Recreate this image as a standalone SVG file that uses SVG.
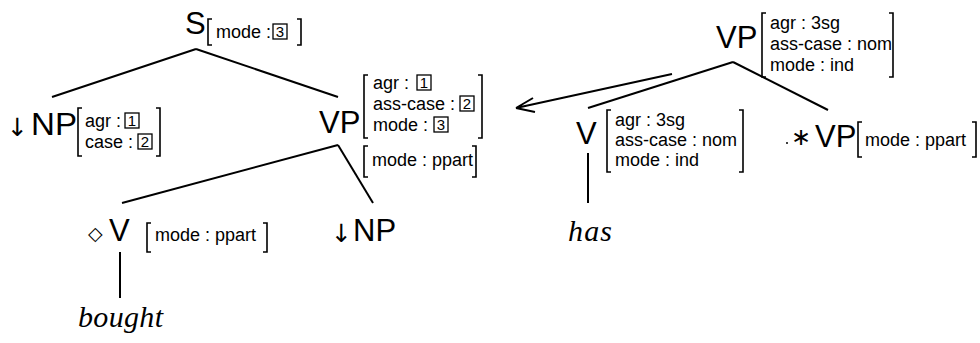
<svg xmlns="http://www.w3.org/2000/svg" width="980" height="343" viewBox="0 0 980 343">
<style>
.lbl{font-family:"Liberation Sans",Arial,sans-serif;font-size:31px;fill:#000}
.ft{font-family:"Liberation Sans",Arial,sans-serif;font-size:18px;fill:#000}
.dg{font-family:"Liberation Sans",Arial,sans-serif;font-size:15px;fill:#000;text-anchor:middle}
.sym{font-family:"DejaVu Sans",sans-serif;fill:#000}
.word{font-family:"Liberation Serif","Times New Roman",serif;font-style:italic;font-size:30px;fill:#000}
.br{fill:none;stroke:#000;stroke-width:1.6}
.bx{fill:none;stroke:#000;stroke-width:1.3}
.edge{fill:none;stroke:#000;stroke-width:2}
</style>
<rect width="980" height="343" fill="#fff"/>
<g id="connectors">
<line class="edge" x1="196" y1="49" x2="52" y2="97"/>
<line class="edge" x1="196" y1="49" x2="338" y2="97"/>
<line class="edge" x1="338" y1="145" x2="122" y2="203"/>
<line class="edge" x1="338" y1="145" x2="373" y2="203"/>
<line class="edge" x1="120" y1="252" x2="120" y2="298"/>
<line class="edge" x1="733" y1="62" x2="588" y2="108"/>
<line class="edge" x1="733" y1="62" x2="828" y2="110"/>
<line class="edge" x1="588" y1="153" x2="588" y2="203"/>
<path class="edge" d="M672,74 L516,108 M516,108 L533,98 M516,108 L535,112"/>
</g>
<g id="n-S">
<text class="lbl" x="185" y="34">S</text>
<path class="br" d="M212,19 H208 V45 H212"/>
<text class="ft" x="216" y="38">mode :</text>
<rect class="bx" x="273" y="24" width="14" height="15"/>
<text class="dg" x="280" y="37">3</text>
<path class="br" d="M297,19 H301 V45 H297"/>
</g>
<g id="n-NP1">
<text class="sym" x="7" y="136" font-size="25">↓</text>
<text class="lbl" x="31" y="135" textLength="46" lengthAdjust="spacingAndGlyphs">NP</text>
<path class="br" d="M82,108 H78 V156 H82"/>
<text class="ft" x="85" y="127">agr :</text>
<rect class="bx" x="125" y="113" width="14" height="15"/>
<text class="dg" x="132" y="126">1</text>
<text class="ft" x="85" y="148">case :</text>
<rect class="bx" x="138" y="134" width="14" height="15"/>
<text class="dg" x="145" y="147">2</text>
<path class="br" d="M156,108 H160 V156 H156"/>
</g>
<g id="n-VP1">
<text class="lbl" x="319" y="133">VP</text>
<path class="br" d="M368,75 H364 V138 H368"/>
<text class="ft" x="373" y="89">agr :</text>
<rect class="bx" x="417" y="75" width="14" height="15"/>
<text class="dg" x="424" y="88">1</text>
<text class="ft" x="373" y="110">ass-case :</text>
<rect class="bx" x="460" y="96" width="14" height="15"/>
<text class="dg" x="467" y="109">2</text>
<text class="ft" x="373" y="131">mode :</text>
<rect class="bx" x="434" y="117" width="14" height="15"/>
<text class="dg" x="441" y="130">3</text>
<path class="br" d="M478,75 H482 V138 H478"/>
<path class="br" d="M368,146 H364 V177 H368"/>
<text class="ft" x="372" y="166">mode : ppart</text>
<path class="br" d="M472,146 H476 V177 H472"/>
</g>
<g id="n-V1">
<text class="sym" x="88" y="240" font-size="19">◇</text>
<text class="lbl" x="109" y="241">V</text>
<path class="br" d="M151,223 H147 V252 H151"/>
<text class="ft" x="155" y="241">mode : ppart</text>
<path class="br" d="M263,223 H267 V252 H263"/>
</g>
<g id="n-NP2">
<text class="sym" x="331" y="242" font-size="25">↓</text>
<text class="lbl" x="353" y="241">NP</text>
</g>
<g id="n-bought">
<text class="word" x="78" y="327" textLength="85" lengthAdjust="spacing">bought</text>
</g>
<g id="n-VP2">
<text class="lbl" x="716" y="48">VP</text>
<path class="br" d="M766,13 H762 V77 H766"/>
<text class="ft" x="770" y="29">agr : 3sg</text>
<text class="ft" x="770" y="50">ass-case : nom</text>
<text class="ft" x="770" y="71">mode : ind</text>
<path class="br" d="M889,13 H893 V77 H889"/>
</g>
<g id="n-V2">
<text class="lbl" x="576" y="144">V</text>
<path class="br" d="M611,110 H607 V172 H611"/>
<text class="ft" x="615" y="126">agr : 3sg</text>
<text class="ft" x="615" y="146">ass-case : nom</text>
<text class="ft" x="615" y="166">mode : ind</text>
<path class="br" d="M739,110 H743 V172 H739"/>
</g>
<g id="n-has">
<text class="word" x="568" y="241" textLength="44" lengthAdjust="spacing">has</text>
</g>
<g id="n-VP3">
<circle cx="787" cy="143" r="1" fill="#000"/>
<text class="sym" x="791" y="145" font-size="24">∗</text>
<text class="lbl" x="815" y="147">VP</text>
<path class="br" d="M862,122 H858 V157 H862"/>
<text class="ft" x="865" y="146">mode : ppart</text>
<path class="br" d="M972,122 H976 V157 H972"/>
</g>
</svg>
